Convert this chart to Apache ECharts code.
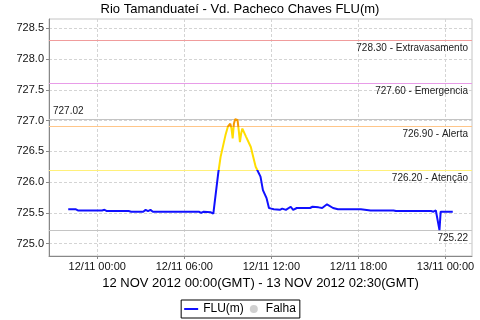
<!DOCTYPE html>
<html><head><meta charset="utf-8">
<script src="https://cdn.jsdelivr.net/npm/echarts@6/dist/echarts.min.js"></script>
<style>html,body{margin:0;padding:0;background:#fff}#c{width:480px;height:320px}</style>
</head><body><div id="c"></div>
<script>
// Series FLU(m): local times and levels (m)
const times = [
 '2012-11-11 22:00','2012-11-11 22:30','2012-11-11 22:40','2012-11-12 00:20','2012-11-12 00:30','2012-11-12 00:40',
 '2012-11-12 02:10','2012-11-12 02:20','2012-11-12 03:10','2012-11-12 03:20','2012-11-12 03:30','2012-11-12 03:40',
 '2012-11-12 03:50','2012-11-12 07:00','2012-11-12 07:10','2012-11-12 07:20','2012-11-12 07:50','2012-11-12 08:00',
 '2012-11-12 08:20','2012-11-12 08:30','2012-11-12 08:50','2012-11-12 09:00','2012-11-12 09:10','2012-11-12 09:15',
 '2012-11-12 09:20','2012-11-12 09:25','2012-11-12 09:30','2012-11-12 09:40','2012-11-12 09:45','2012-11-12 09:50',
 '2012-11-12 09:55','2012-11-12 10:00','2012-11-12 10:15','2012-11-12 10:35','2012-11-12 10:45','2012-11-12 10:55',
 '2012-11-12 11:15','2012-11-12 11:25','2012-11-12 11:40','2012-11-12 11:50','2012-11-12 12:00','2012-11-12 12:10',
 '2012-11-12 12:35','2012-11-12 12:45','2012-11-12 13:00','2012-11-12 13:20','2012-11-12 13:30','2012-11-12 13:45',
 '2012-11-12 14:40','2012-11-12 14:50','2012-11-12 15:15','2012-11-12 15:30','2012-11-12 15:50','2012-11-12 16:15',
 '2012-11-12 16:35','2012-11-12 18:10','2012-11-12 18:50','2012-11-12 20:25','2012-11-12 20:35','2012-11-12 23:00',
 '2012-11-12 23:10','2012-11-12 23:20','2012-11-12 23:35','2012-11-12 23:40','2012-11-13 00:30'
];
const levels = [
 725.56,725.56,725.54,725.54,725.55,725.53,
 725.53,725.52,725.52,725.55,725.53,725.55,
 725.52,725.52,725.50,725.52,725.51,725.49,
 726.14,726.41,726.76,726.90,726.95,726.87,
 726.71,726.95,727.02,727.01,726.84,726.65,
 726.79,726.87,726.74,726.57,726.41,726.25,
 726.09,725.87,725.74,725.58,725.57,725.56,
 725.55,725.57,725.55,725.60,725.55,725.58,
 725.58,725.60,725.59,725.58,725.64,725.58,
 725.56,725.56,725.54,725.54,725.53,725.53,
 725.52,725.54,725.22,725.52,725.52
];
// Reference lines
const refValues = [728.30, 727.60, 726.90, 726.20];
const refNames  = ['Extravasamento', 'Emergencia', 'Alerta', 'Atenção'];
const refColors = ['#f09c9c', '#e89ce8', '#ffc68a', '#fff07a'];
const maxValue = 727.02;
const minValue = 725.22;
// Axis ticks
const yTicks = [725.0, 725.5, 726.0, 726.5, 727.0, 727.5, 728.0, 728.5];
const xTicks = ['2012-11-12 00:00','2012-11-12 06:00','2012-11-12 12:00','2012-11-12 18:00','2012-11-13 00:00'];
const xMinStr = '2012-11-11 20:40:30';
const xMaxStr = '2012-11-13 01:49:30';
const yMin = 724.8, yMax = 728.65;

function toUTC(s){
  const m = s.match(/(\d+)-(\d+)-(\d+) (\d+):(\d+)(?::(\d+))?/);
  return Date.UTC(+m[1], +m[2]-1, +m[3], +m[4], +m[5], m[6]?+m[6]:0);
}
const pad = n => (n<10?'0':'')+n;
const FONT = 'Liberation Sans';

const seriesData = times.map((t,i)=>[toUTC(t), levels[i]]);

const markData = refValues.map((v,i)=>({
  yAxis: v,
  lineStyle: {color: refColors[i], type: 'solid', width: 1},
  label: {formatter: v.toFixed(2) + ' - ' + refNames[i], position: 'insideEndBottom'}
}));
markData.push({yAxis: maxValue, lineStyle:{color:'#c4c4c4', type:'solid', width:1},
  label:{formatter: maxValue.toFixed(2), position:'insideStartTop'}});
markData.push({yAxis: minValue, lineStyle:{color:'#c4c4c4', type:'solid', width:1},
  label:{formatter: minValue.toFixed(2), position:'insideEndBottom'}});

const chart = echarts.init(document.getElementById('c'), null, {renderer:'canvas'});
chart.setOption({
  animation: false,
  textStyle: {fontFamily: FONT},
  title: {
    text: 'Rio Tamanduateí - Vd. Pacheco Chaves FLU(m)',
    left: 'center', top: -2,
    textStyle: {fontFamily: FONT, fontSize: 13, fontWeight: 'normal', color: '#000'}
  },
  grid: {left: 49, right: 8, top: 19, bottom: 64, show: true, borderColor: '#c4c4c4', borderWidth: 1},
  legend: {
    bottom: 2, left: 'center',
    borderColor: '#000', borderWidth: 1, padding: [3, 4, 3, 3],
    itemWidth: 14, itemHeight: 8, itemGap: 6,
    textStyle: {fontFamily: FONT, fontSize: 12, color: '#000'},
    data: [
      {name: 'FLU(m)', icon: 'path://M0,0h28v4h-28z', itemStyle: {color: '#1010ff'}},
      {name: 'Falha', icon: 'circle'}
    ]
  },
  visualMap: {
    show: false, type: 'piecewise', seriesIndex: 0, dimension: 1,
    pieces: [
      {lt: refValues[3], color: '#1010ff'},
      {gte: refValues[3], lt: refValues[2], color: '#ffdd00'},
      {gte: refValues[2], color: '#f59a00'}
    ]
  },
  xAxis: {
    type: 'value',
    min: toUTC(xMinStr), max: toUTC(xMaxStr),
    name: '12 NOV 2012 00:00(GMT) - 13 NOV 2012 02:30(GMT)',
    nameLocation: 'middle', nameGap: 19,
    nameTextStyle: {fontFamily: FONT, fontSize: 13, color: '#000'},
    axisLine: {show: true, lineStyle: {color: '#888', width: 1}},
    axisTick: {show: true, length: 3, lineStyle: {color: '#888'}, customValues: xTicks.map(toUTC)},
    axisLabel: {
      fontFamily: FONT, fontSize: 11, color: '#111', margin: 5,
      customValues: xTicks.map(toUTC),
      formatter: v => { const d = new Date(v); return pad(d.getUTCDate())+'/'+pad(d.getUTCMonth()+1)+' '+pad(d.getUTCHours())+':'+pad(d.getUTCMinutes()); }
    },
    splitLine: {show: true, lineStyle: {color: '#d4d4d4', type: [3, 2], width: 1}}
  },
  yAxis: {
    type: 'value', min: yMin, max: yMax,
    axisLine: {show: true, lineStyle: {color: '#888', width: 1}},
    axisTick: {show: true, length: 3, lineStyle: {color: '#888'}, customValues: yTicks},
    axisLabel: {fontFamily: FONT, fontSize: 11, color: '#111', margin: 5, customValues: yTicks,
      formatter: v => v.toFixed(1)},
    splitLine: {show: true, lineStyle: {color: '#d4d4d4', type: [3, 2], width: 1}}
  },
  series: [
    {name: 'FLU(m)', type: 'line', symbol: 'none', data: seriesData,
     lineStyle: {width: 2}, itemStyle: {color: '#1010ff'}, z: 5},
    {name: 'Falha', type: 'scatter', data: [], itemStyle: {color: '#c4c4c4'}},
    {name: 'ref', type: 'line', data: [], silent: true,
     markLine: {silent: true, symbol: 'none', animation: false,
       label: {fontFamily: FONT, fontSize: 10, color: '#222', distance: [4, 3]},
       data: markData}, z: 2}
  ]
});
</script></body></html>
